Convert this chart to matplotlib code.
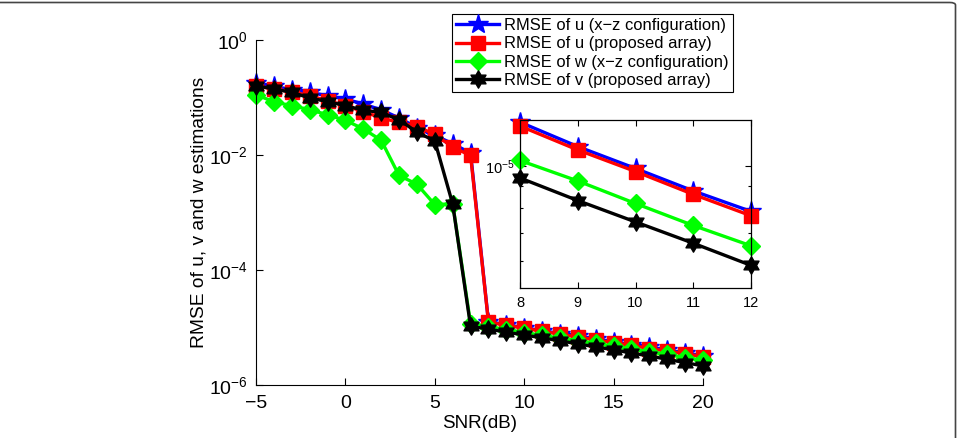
import numpy as np
import matplotlib
matplotlib.use("Agg")
import matplotlib.pyplot as plt
from matplotlib.path import Path
from matplotlib.patches import FancyBboxPatch
from matplotlib.ticker import LogLocator, FixedLocator, NullFormatter

plt.rcParams['font.family'] = ['Liberation Sans', 'DejaVu Sans']
plt.rcParams['mathtext.fontset'] = 'custom'
plt.rcParams['mathtext.rm'] = 'Liberation Sans'

# data
snr = list(range(-5, 21))
u_xz = [0.182, 0.156, 0.136, 0.123, 0.107, 0.094, 0.077, 0.061, 0.044, 0.030, 0.022, 0.0157, 0.0108,
        1.265e-5, 1.11e-5, 9.87e-6, 8.75e-6, 7.84e-6, 7.0e-6, 6.3e-6, 5.6e-6, 5.0e-6, 4.5e-6, 4.0e-6, 3.6e-6, 3.2e-6]
u_prop = [0.16, 0.14, 0.126, 0.107, 0.088, 0.072, 0.057, 0.044, 0.037, 0.031, 0.023, 0.0137, 0.0098,
          1.239e-5, 1.09e-5, 9.71e-6, 8.59e-6, 7.66e-6, 6.8e-6, 6.1e-6, 5.4e-6, 4.9e-6, 4.3e-6, 3.9e-6, 3.5e-6, 3.1e-6]
w_xz = [0.112, 0.084, 0.072, 0.0615, 0.050, 0.040, 0.0285, 0.018, 0.0044, 0.0031, 0.00137, 0.00142, 1.15e-5,
        1.03e-5, 9.23e-6, 8.18e-6, 7.27e-6, 6.52e-6, 5.9e-6, 5.3e-6, 4.7e-6, 4.2e-6, 3.8e-6, 3.4e-6, 3.0e-6, 2.7e-6]
v_prop = [0.16, 0.14, 0.123, 0.098, 0.085, 0.072, 0.060, 0.055, 0.041, 0.025, 0.0175, 0.0014, 1.05e-5,
          9.38e-6, 8.31e-6, 7.41e-6, 6.61e-6, 5.87e-6, 5.2e-6, 4.6e-6, 4.1e-6, 3.6e-6, 3.2e-6, 2.8e-6, 2.45e-6, 2.15e-6]
labels = ['RMSE of u (x\u2212z configuration)', 'RMSE of u (proposed array)',
          'RMSE of w (x\u2212z configuration)', 'RMSE of v (proposed array)']

# six pointed star (hexagram)
ang = np.deg2rad(90 + 30 * np.arange(12))
rad = np.where(np.arange(12) % 2 == 0, 1.0, 0.58)
verts = np.column_stack([rad * np.cos(ang), rad * np.sin(ang)])
verts = np.vstack([verts, verts[:1]])
hexagram = Path(verts, [Path.MOVETO] + [Path.LINETO] * 11 + [Path.CLOSEPOLY])

styles = [dict(color=(0, 0, 1), marker='*', ms=15),
          dict(color=(1, 0, 0), marker='s', ms=9.5),
          dict(color=(0, 1, 0), marker='D', ms=9),
          dict(color='black', marker=hexagram, ms=12.5)]
series = [u_xz, u_prop, w_xz, v_prop]

fig = plt.figure(figsize=(9.6, 4.38), dpi=100)
ax = fig.add_axes([0.2667, 0.121, 0.4656, 0.7877])
for ys, st, lab in zip(series, styles, labels):
    ax.plot(snr, ys, lw=2.4, label=lab, clip_on=False, **st)
ax.set_yscale('log')
ax.set_xlim(-5, 20)
ax.set_ylim(1e-6, 1)
ax.yaxis.set_major_locator(FixedLocator([1e-6, 1e-4, 1e-2, 1]))
ax.yaxis.set_minor_locator(FixedLocator([]))
ax.set_xticks([-5, 0, 5, 10, 15, 20])
ax.set_xticklabels(['\u22125', '0', '5', '10', '15', '20'])
ax.spines['top'].set_visible(False)
ax.spines['right'].set_visible(False)
ax.tick_params(direction='in', labelsize=14, length=5, width=0.8)
ax.tick_params(axis='x', pad=7)
ax.tick_params(axis='y', pad=6)
ax.set_xlabel('SNR(dB)', fontsize=13.5, labelpad=2)
ax.set_ylabel('RMSE of u, v and w estimations', fontsize=13.8, labelpad=1)
ax.legend(loc='upper left', bbox_to_anchor=(0.4708, 0.968), bbox_transform=fig.transFigure,
          fontsize=11.9, frameon=True, fancybox=False, edgecolor='black', framealpha=1,
          handlelength=2.6, borderpad=0.25, labelspacing=0.2, handletextpad=0.3,
          borderaxespad=0).get_frame().set_linewidth(0.8)

# inset zoom
ins = fig.add_axes([0.5417, 0.3425, 0.2406, 0.3836])
for ys, st in zip(series, styles):
    ins.plot(snr[13:18], ys[13:18], lw=2.4, clip_on=False, **st)
ins.set_yscale('log')
ins.set_xlim(8, 12)
ins.set_ylim(5.2e-6, 1.28e-5)
ins.set_xticks([8, 9, 10, 11, 12])
ins.yaxis.set_major_locator(FixedLocator([1e-5]))
ins.yaxis.set_minor_locator(LogLocator(base=10, subs=np.arange(2, 10)))
ins.yaxis.set_minor_formatter(NullFormatter())
ins.tick_params(which='both', direction='in', labelsize=10.5, right=True, top=True, width=0.8)
ins.tick_params(which='major', length=4)
ins.tick_params(which='minor', length=2.5)
ins.tick_params(axis='x', pad=6)
for sp in ins.spines.values():
    sp.set_linewidth(0.9)

# page frame
frame = FancyBboxPatch((-0.05, -0.05), 0.05 + 955.5 / 960, 0.05 + 1 - 2.5 / 438,
                       boxstyle='round,pad=0,rounding_size=0.006', transform=fig.transFigure,
                       fc='none', ec='#444444', lw=1.2)
fig.patches.append(frame)

fig.savefig('out.png', dpi=100)
